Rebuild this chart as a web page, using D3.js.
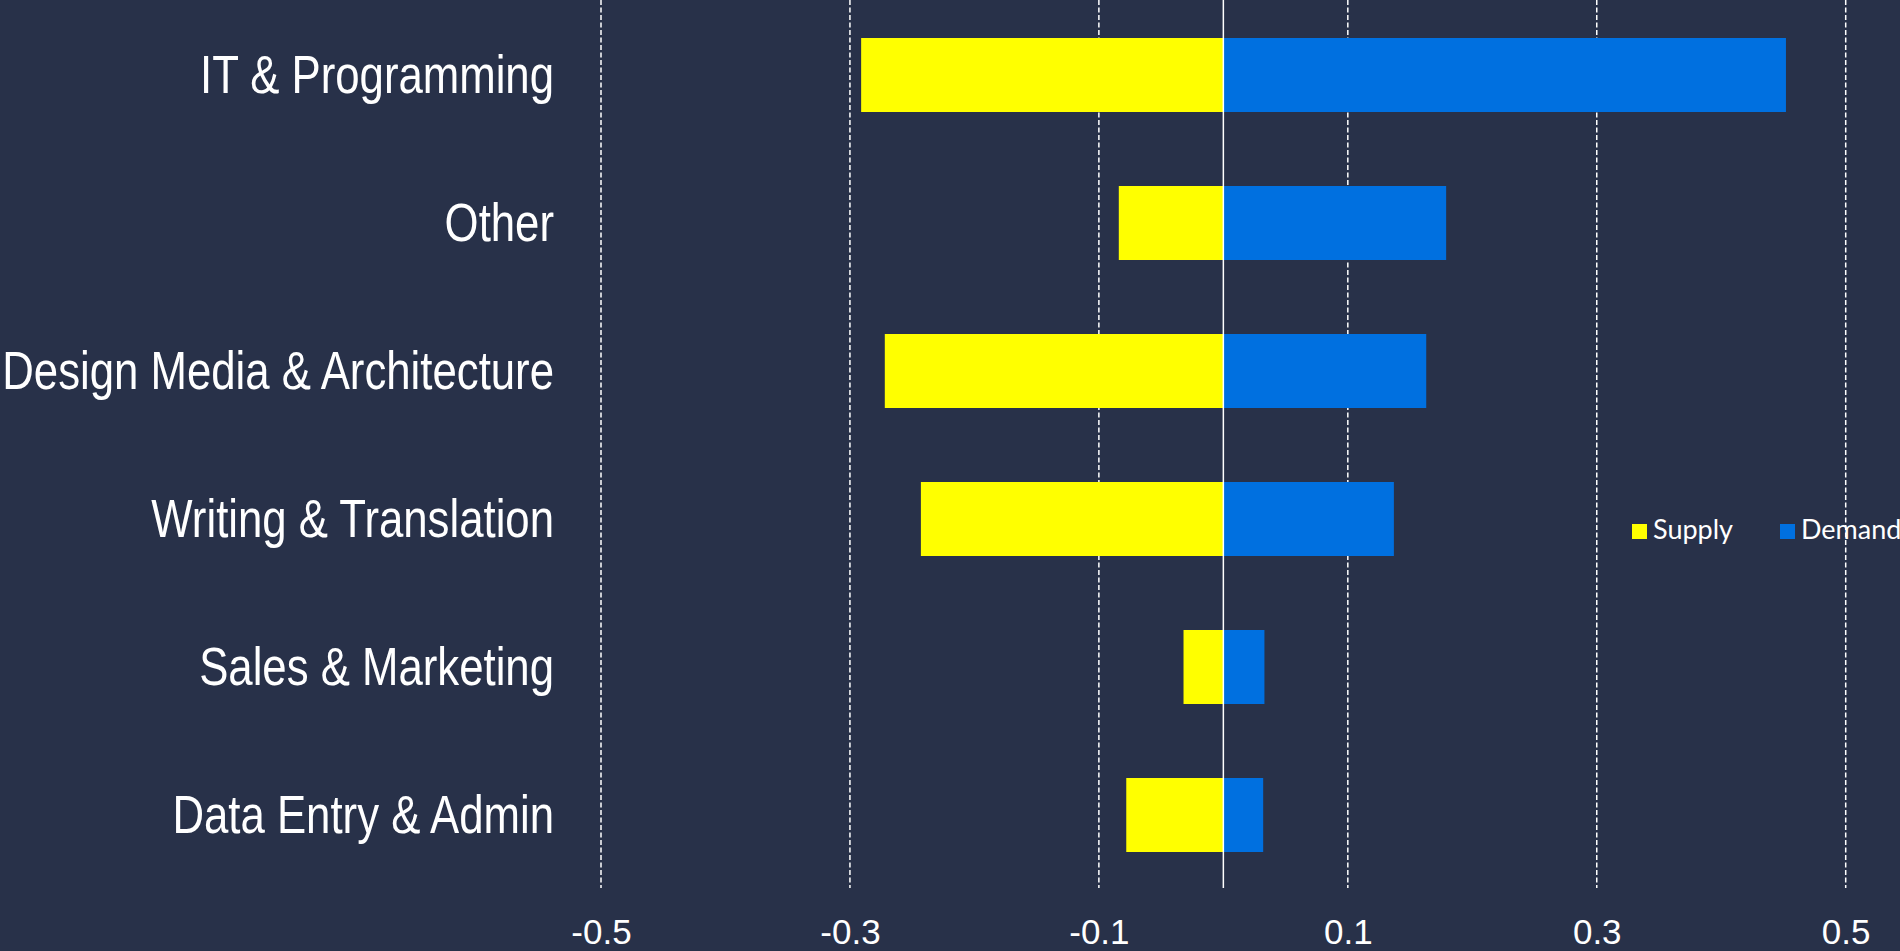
<!DOCTYPE html>
<html>
<head>
<meta charset="utf-8">
<script src="https://cdn.jsdelivr.net/npm/d3@7/dist/d3.min.js"></script>
<style>
  html, body { margin: 0; padding: 0; background: #283149; overflow: hidden; }
  svg { display: block; }
</style>
</head>
<body>
<svg id="chart" width="1900" height="951"></svg>
<script>
const categories = ["IT & Programming", "Other", "Design Media & Architecture", "Writing & Translation", "Sales & Marketing", "Data Entry & Admin"];
const supplyValues = [-0.291, -0.084, -0.272, -0.243, -0.032, -0.078];
const demandValues = [0.452, 0.179, 0.163, 0.137, 0.033, 0.032];
const tickValues = [-0.5, -0.3, -0.1, 0.1, 0.3, 0.5];
const tickLabels = ["-0.5", "-0.3", "-0.1", "0.1", "0.3", "0.5"];
const seriesNames = ["Supply", "Demand"];
const seriesColors = ["#ffff00", "#0070e0"];

const svg = d3.select("#chart");
svg.append("rect").attr("width", 1900).attr("height", 951).attr("fill", "#283149");

const x = d3.scaleLinear().domain([-0.5, 0.5]).range([601, 1845.7]);
const y = d3.scaleBand().domain(categories).range([1, 889]).paddingInner(0.5).paddingOuter(0.25);

// dashed gridlines
svg.append("g").selectAll("line").data(tickValues).join("line")
  .attr("x1", d => x(d)).attr("x2", d => x(d))
  .attr("y1", 0).attr("y2", 888)
  .attr("stroke", "#ffffff").attr("stroke-width", 1.5)
  .attr("stroke-dasharray", "5,2.5");

const rows = categories.map((c, i) => ({c, s: supplyValues[i], d: demandValues[i]}));

// bars
svg.append("g").selectAll("rect").data(rows).join("rect")
  .attr("x", d => x(d.s)).attr("width", d => x(0) - x(d.s))
  .attr("y", d => y(d.c)).attr("height", y.bandwidth())
  .attr("fill", seriesColors[0]);
svg.append("g").selectAll("rect").data(rows).join("rect")
  .attr("x", x(0)).attr("width", d => x(d.d) - x(0))
  .attr("y", d => y(d.c)).attr("height", y.bandwidth())
  .attr("fill", seriesColors[1]);

// zero line
svg.append("line")
  .attr("x1", x(0)).attr("x2", x(0)).attr("y1", 0).attr("y2", 888)
  .attr("stroke", "#ffffff").attr("stroke-width", 1.5);

// x axis tick labels
const xAxis = d3.axisBottom(x).tickValues(tickValues).tickFormat((d, i) => tickLabels[i]).tickSize(0).tickPadding(0);
const gx = svg.append("g").attr("transform", "translate(0,920)").call(xAxis);
gx.select(".domain").remove();
gx.selectAll("text")
  .attr("fill", "#ffffff")
  .attr("font-family", "'Liberation Sans', Arial, sans-serif")
  .attr("font-size", 35)
  .attr("dy", "0.69em");

// y axis category labels
const yAxis = d3.axisLeft(y).tickSize(0).tickPadding(0);
const gy = svg.append("g").attr("transform", "translate(554,0)").call(yAxis);
gy.select(".domain").remove();
const labels = gy.selectAll("text")
  .attr("fill", "#ffffff")
  .attr("font-family", "'Liberation Sans Narrow', 'Arial Narrow', sans-serif")
  .attr("font-size", 54)
  .attr("dy", "0.33em");

// fallback if a narrow font is not installed: compress horizontally
(function () {
  const n0 = labels.node();
  const wNarrow = n0.getComputedTextLength();
  n0.setAttribute("font-family", "'Liberation Sans', Arial, sans-serif");
  const wNormal = n0.getComputedTextLength();
  if (wNarrow / wNormal > 0.9) {
    labels.attr("font-family", "'Liberation Sans', Arial, sans-serif")
      .attr("transform", "scale(0.81,1)");
  } else {
    n0.setAttribute("font-family", "'Liberation Sans Narrow', 'Arial Narrow', sans-serif");
  }
})();

// legend
const legend = svg.append("g");
const legendX = [1632, 1780];
seriesNames.forEach((name, i) => {
  legend.append("rect").attr("x", legendX[i]).attr("y", 524).attr("width", 15).attr("height", 15)
    .attr("fill", seriesColors[i]);
  legend.append("text").attr("x", legendX[i] + 21).attr("y", 539)
    .attr("fill", "#ffffff").attr("font-family", "Lato, 'Open Sans', sans-serif")
    .attr("font-size", 27).text(name);
});
</script>
</body>
</html>
